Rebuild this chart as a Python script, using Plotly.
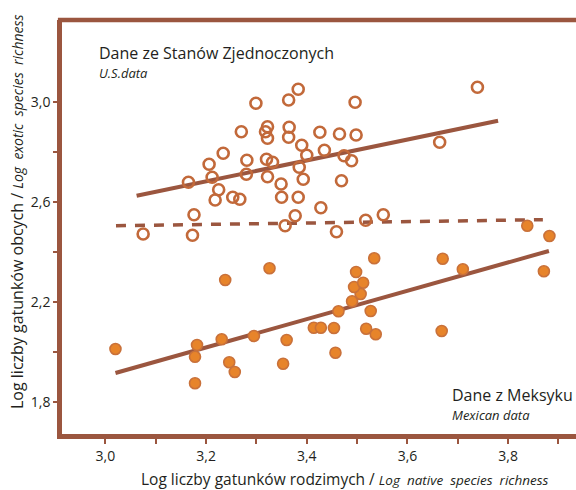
import plotly.graph_objects as go

# ---- data (log native richness, log exotic richness) ----
us_x = [3.075, 3.173, 3.176, 3.165, 3.206, 3.212, 3.225, 3.218, 3.234, 3.253,
        3.267, 3.270, 3.280, 3.281, 3.299, 3.383, 3.364, 3.496, 3.322, 3.318,
        3.322, 3.365, 3.364, 3.426, 3.465, 3.498, 3.390, 3.400, 3.435, 3.474,
        3.489, 3.320, 3.332, 3.385, 3.322, 3.393, 3.469, 3.349, 3.350, 3.383,
        3.428, 3.377, 3.357, 3.459, 3.517, 3.552, 3.739, 3.664]
us_y = [2.471, 2.466, 2.548, 2.678, 2.750, 2.698, 2.648, 2.607, 2.794, 2.618,
        2.610, 2.880, 2.710, 2.766, 2.994, 3.050, 3.007, 2.998, 2.900, 2.880,
        2.854, 2.898, 2.858, 2.878, 2.871, 2.867, 2.826, 2.786, 2.806, 2.784,
        2.764, 2.770, 2.758, 2.738, 2.700, 2.690, 2.684, 2.671, 2.618, 2.618,
        2.576, 2.544, 2.504, 2.480, 2.526, 2.548, 3.058, 2.838]

mx_x = [3.020, 3.238, 3.182, 3.178, 3.231, 3.295, 3.246, 3.257, 3.178, 3.838,
        3.882, 3.326, 3.360, 3.353, 3.414, 3.428, 3.454, 3.457, 3.463, 3.490,
        3.507, 3.494, 3.512, 3.498, 3.534, 3.527, 3.518, 3.537, 3.670, 3.710,
        3.871, 3.668]
mx_y = [2.011, 2.287, 2.027, 1.980, 2.050, 2.063, 1.958, 1.919, 1.874, 2.504,
        2.463, 2.334, 2.047, 1.952, 2.096, 2.096, 2.095, 1.996, 2.162, 2.202,
        2.231, 2.259, 2.276, 2.319, 2.374, 2.163, 2.092, 2.070, 2.372, 2.330,
        2.322, 2.083]

us_fit_x = [3.062, 3.780]
us_fit_y = [2.624, 2.924]
mx_fit_x = [3.020, 3.881]
mx_fit_y = [1.915, 2.403]
all_fit_x = [3.021, 3.869]
all_fit_y = [2.504, 2.528]

x_tickvals = [3.0, 3.1, 3.2, 3.3, 3.4, 3.5, 3.6, 3.7, 3.8, 3.9]
x_ticktext = ["3,0", "", "3,2", "", "3,4", "", "3,6", "", "3,8", ""]
y_tickvals = [1.8, 2.0, 2.2, 2.4, 2.6, 2.8, 3.0]
y_ticktext = ["1,8", "", "2,2", "", "2,6", "", "3,0"]

BROWN = "#9b563f"
OPEN_C = "#c2693a"
FILL_C = "#e7842a"
FILL_EDGE = "#c9713a"
TEXT = "#231f20"
FONT = "Open Sans"

fig = go.Figure()
fig.add_trace(go.Scatter(x=all_fit_x, y=all_fit_y, mode="lines",
                         line=dict(color=BROWN, width=3.5, dash="10px,9px"),
                         hoverinfo="skip"))
fig.add_trace(go.Scatter(x=us_fit_x, y=us_fit_y, mode="lines",
                         line=dict(color=BROWN, width=4), hoverinfo="skip"))
fig.add_trace(go.Scatter(x=mx_fit_x, y=mx_fit_y, mode="lines",
                         line=dict(color=BROWN, width=4), hoverinfo="skip"))
fig.add_trace(go.Scatter(x=us_x, y=us_y, mode="markers",
                         marker=dict(symbol="circle-open", size=11,
                                     color=OPEN_C, line=dict(width=2.6, color=OPEN_C))))
fig.add_trace(go.Scatter(x=mx_x, y=mx_y, mode="markers",
                         marker=dict(symbol="circle", size=11, color=FILL_C,
                                     line=dict(width=1.6, color=FILL_EDGE))))

fig.update_layout(
    width=576, height=490,
    margin=dict(l=62, r=0, t=20, b=56),
    paper_bgcolor="white", plot_bgcolor="white",
    showlegend=False,
    font=dict(family=FONT, color=TEXT),
    xaxis=dict(range=[2.9138, 3.9348], showgrid=False, zeroline=False,
               showline=True, linecolor=BROWN, linewidth=4.5,
               tickmode="array", tickvals=x_tickvals, ticktext=x_ticktext,
               ticks="outside", ticklen=5, tickwidth=1.5, tickcolor=BROWN,
               tickfont=dict(size=14, color=TEXT, family=FONT)),
    yaxis=dict(range=[1.6708, 3.3268], showgrid=False, zeroline=False,
               showline=True, linecolor=BROWN, linewidth=4.5,
               tickmode="array", tickvals=y_tickvals, ticktext=y_ticktext,
               ticks="outside", ticklen=4, tickwidth=1.5, tickcolor=BROWN,
               tickfont=dict(size=14, color=TEXT, family=FONT)),
    shapes=[dict(type="line", xref="paper", yref="paper", x0=-0.008, x1=1,
                 y0=1, y1=1, line=dict(color=BROWN, width=4.5))],
)

annos = [
    dict(text="Dane ze Stanów Zjednoczonych", x=97, y=53, size=16),
    dict(text="<i>U.S.data</i>", x=97, y=73, size=13),
    dict(text="Dane z Meksyku", x=450, y=395, size=16),
    dict(text="<i>Mexican data</i>", x=450, y=415, size=13),
]
for a in annos:
    fig.add_annotation(text=a["text"], xref="paper", yref="paper",
                       x=(a["x"] - 62) / 514, y=1 - (a["y"] - 20) / 414,
                       xanchor="left", yanchor="middle", showarrow=False,
                       font=dict(size=a["size"], color=TEXT, family=FONT))

fig.add_annotation(
    text="Log liczby gatunków rodzimych / <span style='font-size:13.5px'><i>Log&nbsp; native&nbsp; species&nbsp; richness</i></span>",
    xref="paper", yref="paper", x=(140 - 62) / 514, y=1 - (479 - 20) / 414,
    xanchor="left", yanchor="middle", showarrow=False, borderpad=0,
    font=dict(size=15.5, color=TEXT, family=FONT))
fig.add_annotation(
    text="Log liczby gatunków obcych / <span style='font-size:14px'><i>Log&nbsp; exotic&nbsp; species&nbsp; richness</i></span>",
    xref="paper", yref="paper", x=(17 - 62) / 514, y=1 - (212 - 20) / 414,
    xanchor="center", yanchor="middle", textangle=-90, showarrow=False,
    font=dict(size=16, color=TEXT, family=FONT))

fig.write_html("out.html", config={"displayModeBar": False},
               post_script="document.body.style.margin='0';document.body.style.overflow='hidden';")
